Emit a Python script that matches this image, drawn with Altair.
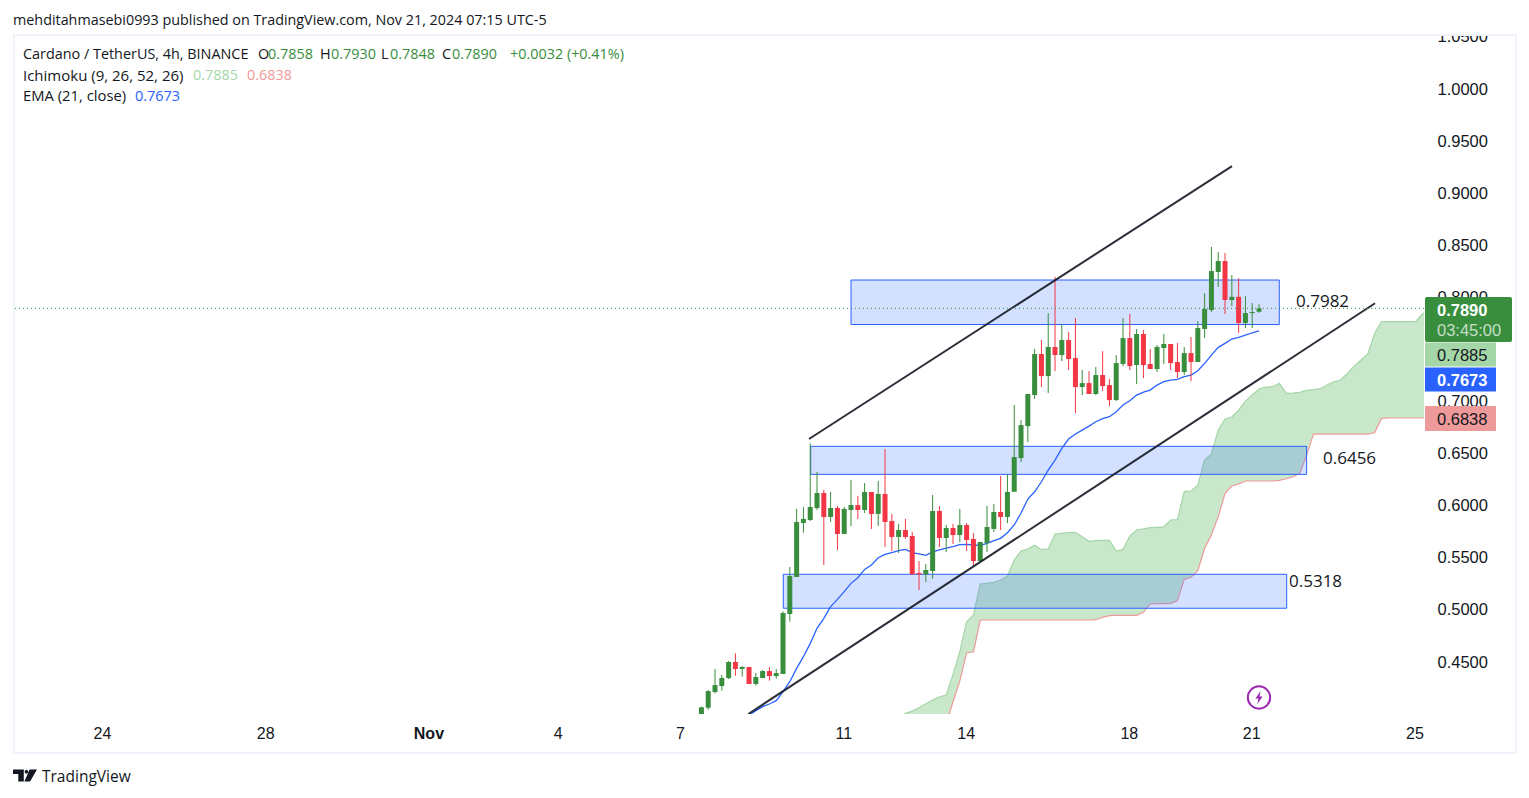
import altair as alt
import pandas as pd

first_bar = 3
opens = [.3960,.4057,.4208,.4265,.4342,.4496,.4429,.4448,.4285,.4342,.4409,.4361,.4381,.4957,.5312,.5830,.5859,.5974,.6118,.5888,.5974,.5725,.5955,.6003,.5955,.6128,.5917,.6109,.5849,.5696,.5763,.5705,.5350,.5337,.5369,.5945,.5686,.5782,.5715,.5811,.5677,.5465,.5638,.5773,.5936,.5888,
         .6130,.6453,.6760,.7058,.7452,.7240,.7519,.7442,.7586,.7413,.7135,.7173,.7068,.7250,.7154,.7010,.7356,.7605,.7346,.7644,.7356,.7308,.7509,.7548,.7375,.7279,.7461,.7375,.7692,.7874,.8239,.8344,.7970,.8001,.7749,.7845,.7858]
highs = [.4068,.4227,.4429,.4371,.4505,.4579,.4457,.4451,.4390,.4419,.4448,.4429,.4982,.5408,.5965,.5984,.6595,.6320,.6147,.6128,.5993,.5984,.6243,.6089,.6214,.6128,.6233,.6541,.5917,.5821,.5869,.5744,.5465,.5437,.6099,.5993,.5811,.5821,.5965,.5830,.5734,.5648,.5993,.6013,.6281,.6301,
         .6962,.6818,.7068,.7500,.7586,.7845,.8191,.7740,.7663,.7797,.7298,.7288,.7327,.7480,.7212,.7442,.7797,.7836,.7692,.7682,.7500,.7538,.7644,.7548,.7557,.7519,.7615,.7768,.8037,.8479,.8431,.8421,.8210,.8181,.8008,.7941,.7930]
lows = [.3950,.4038,.4195,.4221,.4333,.4365,.4355,.4285,.4269,.4342,.4317,.4336,.4381,.4883,.5312,.5737,.5849,.5955,.5427,.5840,.5571,.5725,.5801,.5869,.5926,.5773,.5801,.5600,.5561,.5542,.5677,.5337,.5187,.5264,.5293,.5600,.5552,.5629,.5648,.5561,.5417,.5465,.5552,.5744,.5763,.5830,
        .6130,.6415,.6607,.7020,.7135,.7077,.7288,.7384,.7298,.6885,.7058,.7068,.7058,.7096,.6952,.7000,.7336,.7298,.7164,.7221,.7308,.7279,.7356,.7298,.7221,.7250,.7192,.7375,.7605,.7855,.8095,.7836,.7912,.7653,.7701,.7701,.7848]
closes = [.4061,.4217,.4275,.4342,.4496,.4429,.4448,.4285,.4352,.4409,.4361,.4390,.4966,.5321,.5840,.5869,.5984,.6118,.5888,.5974,.5725,.5965,.6003,.5955,.6128,.5917,.6109,.5840,.5696,.5763,.5696,.5337,.5337,.5379,.5945,.5686,.5782,.5715,.5811,.5667,.5465,.5648,.5792,.5936,.5888,.6128,
          .6463,.6770,.7068,.7452,.7240,.7519,.7442,.7586,.7404,.7135,.7173,.7068,.7250,.7144,.7010,.7365,.7605,.7336,.7644,.7346,.7308,.7519,.7548,.7365,.7279,.7461,.7375,.7701,.7884,.8248,.8344,.7970,.8001,.7749,.7845,.7855,.7890]

ema_first = 10
ema = [.3985,.4029,.4067,.4093,.4125,.4211,.4307,.4435,.4547,.4675,.4819,.4915,.5027,.5097,.5171,.5251,.5305,.5385,.5427,.5497,.5529,.5545,.5565,.5577,.5545,.5533,.5520,.5552,.5571,.5590,.5603,.5622,.5625,.5619,.5616,.5635,.5661,.5683,.5737,
       .5811,.5926,.6060,.6130,.6226,.6338,.6434,.6546,.6636,.6684,.6722,.6760,.6802,.6831,.6850,.6898,.6962,.7004,.7058,.7087,.7106,.7154,.7186,.7202,.7208,.7234,.7250,.7292,.7362,.7442,.7516,.7554,.7596,.7612,.7634,.7656,.7673]

cloud_first = 32
lead1 = [.3950,.4003,.4025,.4057,.4096,.4131,.4163,.4179,.4377,.4595,.4883,.4947,.5245,.5251,.5261,.5283,.5321,.5475,.5561,.5581,.5616,.5574,.5581,.5725,.5731,.5737,.5741,.5699,.5654,.5661,.5664,.5664,.5561,.5577,.5705,.5763,.5773,.5785,.5789,.5792,.5859,.5862,.6131,.6137,.6194,.6434,.6492,.6722,.6828,.6847,.6914,.7000,.7058,.7116,.7135,.7138,.7170,.7074,.7077,.7084,.7103,.7110,.7119,.7155,.7186,.7202,.7266,.7336,.7394,.7452,.7649,.7762,.7762,.7762,.7762,.7762,.7762,.7833,.7885]
lead2 = [.3500]*6 + [.3700,.3907,.4115,.4313,.4585,.4592] + [.4899]*17 + [.4902,.4925,.4941] + [.4944]*4 + [.4973,.5053,.5056,.5056,.5059,.5085,.5289,.5309,.5373,.5587,.5715,.5891,.6115,.6185,.6205] + [.6233]*5 + [.6240,.6255,.6274,.6306,.6482] + [.6684]*9 + [.6696,.6834] + [.6838]*7

zone_labels = ["0.7982", "0.6456", "0.5318"]
zone_start = [25.0, 19.07, 15.04]
zone_end = [87.98, 92.0, 89.07]
zone_top = [.8162, .6566, .5338]
zone_bottom = [.7735, .6297, .5012]

line_x1 = [18.82, 9.9]
line_x2 = [81.03, 102.06]
line_p1 = [.6636, .3997]
line_p2 = [.9256, .7939]

tick_bars = [-85, -61, -37, -18, 0, 24, 42, 66, 84, 108]
tick_names = ["24", "28", "Nov", "4", "7", "11", "14", "18", "21", "25"]
price_ticks = [.45, .5, .55, .6, .65, .7, .75, .8, .85, .9, .95, 1.0, 1.05]
last_price = .7890

GREEN, RED, BLUE, INK = "#388E3C", "#F23645", "#2962FF", "#131722"
LEFT, TOP = 14, 36
W, H = 1410, 678
FONT_UI = "Open Sans"
FONT_AX = "Liberation Sans"

candles = pd.DataFrame({"bar": range(first_bar, first_bar + len(opens)), "o": opens, "h": highs, "l": lows, "c": closes})
candles["dir"] = ["up" if c >= o else "down" for o, c in zip(opens, closes)]
ema_df = pd.DataFrame({"bar": range(ema_first, ema_first + len(ema)), "ema": ema})
cloud = pd.DataFrame({"bar": range(cloud_first, cloud_first + len(lead1)), "a": lead1, "b": lead2})
zones = pd.DataFrame({"s": zone_start, "e": zone_end, "t": zone_top, "b": zone_bottom})
lines = pd.DataFrame({"x": line_x1, "x2": line_x2, "p": line_p1, "p2": line_p2})

label_expr = " : ".join(f"datum.value == {b} ? '{n}'" for b, n in zip(tick_bars, tick_names)) + " : ''"
xs = alt.Scale(domain=[-98.09, 109.26], nice=False, zero=False, padding=0)
ys = alt.Scale(domain=[.3997, 1.0504], nice=False, zero=False, padding=0)
X = alt.X("bar:Q", scale=xs, title=None, axis=alt.Axis(
    values=tick_bars, labelExpr=label_expr, grid=False, domain=False, ticks=False, labelPadding=11, labelOffset=-1,
    labelFont=FONT_AX, labelFontSize=16, labelColor=INK, labelFlush=False, labelOverlap=False,
    labelFontWeight={"condition": {"test": "datum.value === -37", "value": "bold"}, "value": "normal"}))
color = alt.Color("dir:N", scale=alt.Scale(domain=["up", "down"], range=[GREEN, RED]), legend=None)


def xq(f):
    return alt.X(f, scale=xs, title=None)


def yq(f):
    return alt.Y(f, scale=ys, title=None)


base = alt.Chart(candles)
area = alt.Chart(cloud).mark_area(color="#4CAF50", opacity=.3, clip=True).encode(
    x=X, y=alt.Y("a:Q", scale=ys, title=None, axis=alt.Axis(
        orient="right", values=price_ticks, format=".4f", grid=False, domain=False, ticks=False, labelPadding=13, labelOffset=0.5,
        labelFont=FONT_AX, labelFontSize=16.5, labelColor=INK, labelOverlap=False, labelFlush=False)),
    y2="b:Q")
l1 = alt.Chart(cloud).mark_line(color="#A5D6A7", strokeWidth=1.2, clip=True).encode(x=xq("bar:Q"), y=yq("a:Q"))
l2 = alt.Chart(cloud).mark_line(color="#EF9A9A", strokeWidth=1.2, clip=True).encode(x=xq("bar:Q"), y=yq("b:Q"))
rects = alt.Chart(zones).mark_rect(fill=BLUE, fillOpacity=.2, stroke=BLUE, strokeWidth=1).encode(
    x=xq("s:Q"), x2="e:Q", y=yq("t:Q"), y2="b:Q")
ema_line = alt.Chart(ema_df).mark_line(color=BLUE, strokeWidth=1.3, clip=True).encode(x=xq("bar:Q"), y=yq("ema:Q"))
wicks = base.mark_rule(strokeWidth=1, clip=True).encode(x=xq("bar:Q"), y=yq("h:Q"), y2="l:Q", color=color)
bodies = base.mark_bar(size=5, clip=True, orient="vertical").encode(x=xq("bar:Q"), y=yq("o:Q"), y2="c:Q", color=color)
trends = alt.Chart(lines).mark_rule(color=INK, strokeWidth=2, opacity=.9, clip=True).encode(
    x=xq("x:Q"), x2="x2:Q", y=yq("p:Q"), y2="p2:Q")
price_line = alt.Chart(pd.DataFrame({"p": [last_price]})).mark_rule(
    color=GREEN, strokeWidth=1, strokeDash=[1, 3]).encode(y=yq("p:Q"))


def text(s, x, y, color=INK, size=14.4, font=FONT_UI, weight="normal", opacity=1.0):
    return alt.Chart(pd.DataFrame({"t": [s]})).mark_text(
        align="left", baseline="middle", color=color, fontSize=size, font=font, fontWeight=weight, opacity=opacity
    ).encode(x=alt.value(x - LEFT), y=alt.value(y - TOP), text="t:N")


def box(x0, y0, x1, y1, **kw):
    return alt.Chart(pd.DataFrame({"k": [0]})).mark_rect(**kw).encode(
        x=alt.value(x0 - LEFT), x2=alt.value(x1 - LEFT), y=alt.value(y0 - TOP), y2=alt.value(y1 - TOP))


def glyph(path, x, y, size, **kw):
    return alt.Chart(pd.DataFrame({"k": [0]})).mark_point(shape=path, size=size, **kw).encode(
        x=alt.value(x - LEFT), y=alt.value(y - TOP))


layers = [area, l1, l2, rects, ema_line, wicks, bodies, trends, price_line]

# clip the top axis label at the frame
layers.append(box(1425, 20, 1515, 34, fill="white"))
# frame
layers.append(box(14, 35, 1516, 753, fill="transparent", stroke="#F0F3FA", strokeWidth=2))

# price tags
layers += [
    box(1425, 297, 1512, 342, fill=GREEN, cornerRadius=2),
    box(1425, 342.5, 1496, 366.5, fill="#A5D6A7"),
    box(1425, 367.5, 1496, 391.5, fill=BLUE),
    box(1425, 406, 1496, 431, fill="#EF9A9A"),
    text("0.7890", 1437, 310.5, "white", 16.5, FONT_AX, "bold"),
    text("03:45:00", 1437, 330.5, "white", 16.5, FONT_AX, "normal", .7),
    text("0.7885", 1437, 355.5, INK, 16.5, FONT_AX),
    text("0.7673", 1437, 380.5, "white", 16.5, FONT_AX, "bold"),
    text("0.6838", 1437, 419.5, INK, 16.5, FONT_AX),
]

# zone labels
layers += [text(zone_labels[0], 1296, 302, INK, 17), text(zone_labels[1], 1323, 459, INK, 17), text(zone_labels[2], 1289, 582, INK, 17)]

# header and legend
layers += [
    text("mehditahmasebi0993 published on TradingView.com, Nov 21, 2024 07:15 UTC-5", 13, 20.5, size=14.35),
    text("Cardano / TetherUS, 4h, BINANCE", 23, 55),
    text("O", 258, 55), text("0.7858", 268, 55, GREEN),
    text("H", 320, 55), text("0.7930", 331, 55, GREEN),
    text("L", 381, 55), text("0.7848", 390, 55, GREEN),
    text("C", 442, 55), text("0.7890", 452, 55, GREEN),
    text("+0.0032 (+0.41%)", 510, 55, GREEN),
    text("Ichimoku (9, 26, 52, 26)", 23, 76, size=15),
    text("0.7885", 193, 76, "#A5D6A7"), text("0.6838", 247, 76, "#EF9A9A"),
    text("EMA (21, close)", 23, 97, size=14.8),
    text("0.7673", 135, 97, BLUE),
]

# bolt marker
layers += [
    glyph("circle", 1259, 697.5, 500, filled=False, stroke="#9C27B0", strokeWidth=2, opacity=1),
    glyph("M.25,-1 L-.55,.15 L-.08,.15 L-.25,1 L.55,-.15 L.08,-.15 Z", 1259, 697.5, 170, filled=True, fill="#9C27B0", stroke="#9C27B0", strokeWidth=0, opacity=1),
]

# footer logo
layers += [
    glyph("M-1,-.5 L-.1,-.5 L-.1,.5 L-.56,.5 L-.56,-.12 L-1,-.12 Z M.38,-.5 L1,-.5 L.42,.5 L-.05,.5 Z M.28,-.31 L.23,-.2 L.12,-.15 L.01,-.2 L-.04,-.31 L.01,-.42 L.12,-.47 L.23,-.42 Z",
          25, 775.5, 576, filled=True, fill=INK, stroke=INK, strokeWidth=0, opacity=1),
    text("TradingView", 42, 777, INK, 15.5),
]

chart = alt.layer(*layers).resolve_scale(x="shared", y="shared", color="independent").properties(
    width=W, height=H,
    autosize=alt.AutoSizeParams(type="none"),
    padding={"left": LEFT - 8, "top": TOP - 8, "right": 97, "bottom": 76},
    background="white",
).configure_view(stroke=None)

chart.save("out.html", embed_options={"renderer": "svg", "actions": False})
